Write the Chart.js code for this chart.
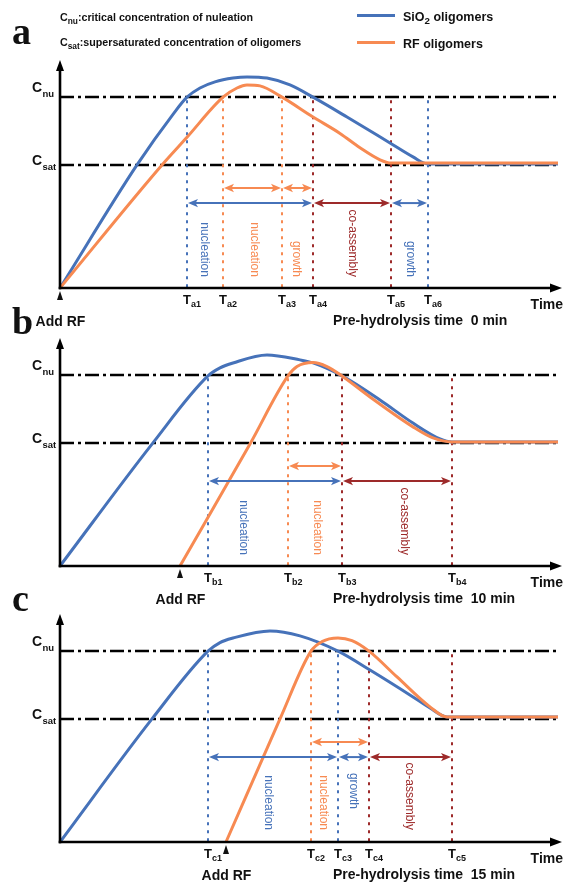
<!DOCTYPE html>
<html>
<head>
<meta charset="utf-8">
<script src="https://cdn.jsdelivr.net/npm/chart.js@4/dist/chart.umd.min.js"></script>
<style>
  html, body { margin: 0; padding: 0; background: #fff; }
  body { width: 564px; height: 883px; position: relative; overflow: hidden;
         font-family: "Liberation Sans", Arial, sans-serif; color: #111; }
  canvas { position: absolute; left: 0; }
  .t { position: absolute; white-space: nowrap; font-weight: bold; line-height: 1; }
  .t sub { font-size: 0.78em; vertical-align: -0.3em; line-height: 0; }
  .letter { position: absolute; font-family: "Liberation Serif", "Times New Roman", serif;
            font-weight: bold; font-size: 38px; line-height: 1; }
  .key { position: absolute; height: 3px; width: 38px; }
</style>
</head>
<body>
<canvas id="panelA" width="564" height="335" style="top:0"></canvas>
<canvas id="panelB" width="564" height="275" style="top:335px"></canvas>
<canvas id="panelC" width="564" height="273" style="top:610px"></canvas>

<div class="t" style="left:60px;top:12px;font-size:10.7px">C<sub>nu</sub>:critical concentration of nuleation</div>
<div class="t" style="left:60px;top:37px;font-size:10.7px">C<sub>sat</sub>:supersaturated concentration of oligomers</div>
<div class="key" style="left:357px;top:14px;background:#4672b9"></div>
<div class="key" style="left:357px;top:41px;background:#f78a52"></div>
<div class="t" style="left:403px;top:11px;font-size:12.5px">SiO<sub>2</sub> oligomers</div>
<div class="t" style="left:403px;top:38px;font-size:12.5px">RF oligomers</div>
<div class="letter" style="left:12px;top:12px">a</div>
<div class="letter" style="left:12px;top:302px">b</div>
<div class="letter" style="left:12px;top:579px">c</div>

<script>
// ---------- concentration levels ----------
const C_NU = 10;
const C_SAT = 6.43;

// ---------- panel a : pre-hydrolysis 0 min ----------
const sio2A_t = [0, 15.4, 22.6, 25.4, 28, 31, 34.6, 37.4, 41.4, 46, 50.6, 57.4, 66, 70.6, 73.6, 99.6];
const sio2A_c = [0, 6.45, 9.1, 10.0, 10.48, 10.8, 11.0, 11.06, 11.0, 10.64, 10.0, 8.96, 7.6, 6.87, 6.5, 6.5];
const rfA_t   = [0, 20.4, 25.4, 32.6, 35.4, 37.4, 40, 44.4, 50.6, 56, 60, 64, 66.2, 99.6];
const rfA_c   = [0, 6.45, 7.9, 10.0, 10.48, 10.64, 10.59, 10.0, 8.96, 8.1, 7.35, 6.72, 6.55, 6.55];
const timesA  = [25.4, 32.6, 44.4, 50.6, 66.2, 73.6];
const tagsA   = ['a1', 'a2', 'a3', 'a4', 'a5', 'a6'];
const kindsA  = ['sio2', 'rf', 'rf', 'co', 'co', 'sio2'];
// stage: [species, from marker, to marker, name]
const stagesA = [['rf', 1, 2, 'nucleation'], ['rf', 2, 3, 'growth'], ['sio2', 0, 3, 'nucleation'],
                 ['co', 3, 4, 'co-assembly'], ['sio2', 4, 5, 'growth']];

// ---------- panel b : pre-hydrolysis 10 min ----------
const sio2B_t = [0, 18.4, 29.6, 32, 34.6, 41.4, 48, 50.6, 56.4, 64, 70.6, 76, 78.4, 99.6];
const sio2B_c = [0, 6.39, 9.96, 10.38, 10.64, 11.06, 10.8, 10.64, 9.96, 8.7, 7.49, 6.66, 6.5, 6.5];
const rfB_t   = [24, 38, 45.6, 47.4, 50.6, 53.4, 56.4, 62, 70.6, 74.6, 78.4, 99.6];
const rfB_c   = [0, 6.39, 9.96, 10.45, 10.66, 10.45, 9.96, 8.86, 7.29, 6.71, 6.5, 6.5];
const timesB  = [29.6, 45.6, 56.4, 78.4];
const tagsB   = ['b1', 'b2', 'b3', 'b4'];
const kindsB  = ['sio2', 'rf', 'co', 'co'];
const stagesB = [['rf', 1, 2, 'nucleation'], ['sio2', 0, 2, 'nucleation'], ['co', 2, 3, 'co-assembly']];

// ---------- panel c : pre-hydrolysis 15 min ----------
const sio2C_t = [0, 18.4, 29.6, 32, 34.6, 42, 48, 55.6, 62, 70.6, 74, 77.4, 99.6];
const sio2C_c = [0, 6.45, 10.0, 10.45, 10.69, 11.06, 10.8, 10.0, 9.01, 7.6, 7.02, 6.55, 6.55];
const rfC_t   = [33.2, 44, 50.2, 52.4, 55.6, 58.4, 61.8, 67.4, 74, 77.4, 99.6];
const rfC_c   = [0, 6.45, 10.0, 10.5, 10.69, 10.55, 10.0, 8.65, 7.08, 6.55, 6.55];
const timesC  = [29.6, 50.2, 55.6, 61.8, 78.4];
const tagsC   = ['c1', 'c2', 'c3', 'c4', 'c5'];
const kindsC  = ['sio2', 'rf', 'sio2', 'co', 'co'];
const stagesC = [['rf', 1, 3, 'nucleation'], ['sio2', 0, 2, 'nucleation'], ['sio2', 2, 3, 'growth'],
                 ['co', 3, 4, 'co-assembly']];

// moment RF is added, and the pre-hydrolysis time of each run
const addRF = [0, 24, 33.2];
const preHydrolysisMin = [0, 10, 15];

// ---------- styling ----------
const COLORS = { sio2: '#4672b9', rf: '#f78a52', co: '#9d2a2a' };
const FONT = '"Liberation Sans", Arial, sans-serif';
const ROW_Y = { rf: 5.24, sio2: 4.45, co: 4.45 };

// where each stage name sits (same order as the stage lists):
// x in time units, y where the text ends (or starts, if start:true)
const labelSpots = [
  [{ x: 38.8, y: 0.58 }, { x: 47.2, y: 0.58 }, { x: 28.8, y: 0.58 }, { x: 58.4, y: 0.58 }, { x: 70.0, y: 0.58 }],
  [{ x: 51.4, y: 0.58 }, { x: 36.6, y: 0.58 }, { x: 68.8, y: 0.58 }],
  [{ x: 52.6, y: 0.63 }, { x: 41.6, y: 0.63 }, { x: 58.6, y: 3.62, start: true }, { x: 69.8, y: 0.63 }]
];

const zip = (t, c) => t.map((v, i) => ({ x: v, y: c[i] }));

function arrowHead(ctx, x, y, dir) {
  ctx.beginPath();
  ctx.moveTo(x, y);
  ctx.lineTo(x - dir * 10, y - 4.2);
  ctx.lineTo(x - dir * 7.5, y);
  ctx.lineTo(x - dir * 10, y + 4.2);
  ctx.closePath();
  ctx.fill();
}

function schemePlugin(idx, times, tags, kinds, stages) {
  return {
    id: 'scheme' + idx,
    beforeDatasetsDraw(chart) {
      const { ctx } = chart;
      const X = chart.scales.x, Y = chart.scales.y;
      const base = Y.getPixelForValue(0);
      ctx.save();
      // C_nu and C_sat levels
      ctx.strokeStyle = '#000';
      ctx.lineWidth = 2.4;
      ctx.setLineDash([14, 4, 3, 4]);
      [C_NU, C_SAT].forEach(v => {
        const y = Math.round(Y.getPixelForValue(v));
        ctx.beginPath();
        ctx.moveTo(X.getPixelForValue(0), y);
        ctx.lineTo(X.getPixelForValue(99.4), y);
        ctx.stroke();
      });
      // dotted markers for each characteristic time
      ctx.lineWidth = 2;
      ctx.setLineDash([3, 5]);
      times.forEach((t, i) => {
        const x = X.getPixelForValue(t);
        ctx.strokeStyle = COLORS[kinds[i]];
        ctx.beginPath();
        ctx.moveTo(x, Y.getPixelForValue(C_NU) + 3);
        ctx.lineTo(x, base);
        ctx.stroke();
      });
      ctx.restore();
    },
    afterDatasetsDraw(chart) {
      const { ctx } = chart;
      const X = chart.scales.x, Y = chart.scales.y;
      const base = Y.getPixelForValue(0);
      const x0 = X.getPixelForValue(0);
      ctx.save();
      ctx.setLineDash([]);

      // axes with arrow tips
      ctx.strokeStyle = '#000';
      ctx.fillStyle = '#000';
      ctx.lineWidth = 2.6;
      const topY = Y.getPixelForValue(12) + 1;
      ctx.beginPath();
      ctx.moveTo(x0, base + 1.3);
      ctx.lineTo(x0, topY + 8);
      ctx.stroke();
      ctx.beginPath();
      ctx.moveTo(x0, topY); ctx.lineTo(x0 - 4, topY + 11); ctx.lineTo(x0 + 4, topY + 11);
      ctx.closePath(); ctx.fill();
      const rightX = X.getPixelForValue(100) + 2;
      ctx.beginPath();
      ctx.moveTo(x0 - 1.3, base);
      ctx.lineTo(rightX - 8, base);
      ctx.stroke();
      ctx.beginPath();
      ctx.moveTo(rightX, base); ctx.lineTo(rightX - 12, base - 4.5); ctx.lineTo(rightX - 12, base + 4.5);
      ctx.closePath(); ctx.fill();

      // stage arrows
      ctx.lineWidth = 2;
      stages.forEach(s => {
        const col = COLORS[s[0]];
        const y = Y.getPixelForValue(ROW_Y[s[0]]);
        const xa = X.getPixelForValue(times[s[1]]);
        const xb = X.getPixelForValue(times[s[2]]);
        ctx.strokeStyle = col; ctx.fillStyle = col;
        ctx.beginPath(); ctx.moveTo(xa + 4, y); ctx.lineTo(xb - 4, y); ctx.stroke();
        arrowHead(ctx, xa + 1, y, -1);
        arrowHead(ctx, xb - 1, y, 1);
      });

      // stage names, written downwards
      ctx.font = '12px ' + FONT;
      ctx.textBaseline = 'middle';
      stages.forEach((s, i) => {
        const spot = labelSpots[idx][i];
        ctx.fillStyle = COLORS[s[0]];
        ctx.save();
        ctx.translate(X.getPixelForValue(spot.x), Y.getPixelForValue(spot.y));
        ctx.rotate(Math.PI / 2);
        ctx.textAlign = spot.start ? 'left' : 'right';
        ctx.fillText(s[3], 0, 0);
        ctx.restore();
      });

      // time markers T with subscripts
      ctx.fillStyle = '#111';
      ctx.textBaseline = 'alphabetic';
      times.forEach((t, i) => {
        const x = X.getPixelForValue(t);
        ctx.font = 'bold 13px ' + FONT;
        ctx.textAlign = 'center';
        ctx.fillText('T', x, base + 15.5);
        ctx.font = 'bold 9px ' + FONT;
        ctx.textAlign = 'left';
        ctx.fillText(tags[i], x + 4, base + 19);
      });

      // concentration level names
      const yNu = Y.getPixelForValue(C_NU), ySat = Y.getPixelForValue(C_SAT);
      ctx.textAlign = 'left';
      ctx.font = 'bold 14px ' + FONT;
      ctx.fillText('C', 32, yNu - 5);
      ctx.fillText('C', 32, ySat);
      ctx.font = 'bold 9.5px ' + FONT;
      ctx.fillText('nu', 42.5, yNu - 0.5);
      ctx.fillText('sat', 42.5, ySat + 5);

      // RF addition mark
      const xr = X.getPixelForValue(addRF[idx]);
      ctx.beginPath();
      ctx.moveTo(xr, base + 3); ctx.lineTo(xr - 3, base + 12); ctx.lineTo(xr + 3, base + 12);
      ctx.closePath(); ctx.fill();
      ctx.font = 'bold 14px ' + FONT;
      ctx.textAlign = 'center';
      ctx.fillText('Add RF', xr + 0.5, base + 38);

      ctx.textAlign = 'right';
      ctx.fillText('Time', 563, base + 20.5);
      ctx.textAlign = 'left';
      ctx.fillText('Pre-hydrolysis time  ' + preHydrolysisMin[idx] + ' min', 333, base + 37);
      ctx.restore();
    }
  };
}

function makePanel(id, idx, sioT, sioC, rfT, rfC, times, tags, kinds, stages, padTop, padBottom) {
  return new Chart(document.getElementById(id), {
    type: 'line',
    data: {
      datasets: [
        { label: 'SiO\u2082 oligomers', data: zip(sioT, sioC), borderColor: COLORS.sio2, borderWidth: 3,
          pointRadius: 0, cubicInterpolationMode: 'monotone', fill: false, clip: false, order: 2 },
        { label: 'RF oligomers', data: zip(rfT, rfC), borderColor: COLORS.rf, borderWidth: 3,
          pointRadius: 0, cubicInterpolationMode: 'monotone', fill: false, clip: false, order: 1 }
      ]
    },
    options: {
      responsive: false,
      animation: false,
      devicePixelRatio: 1,
      events: [],
      layout: { padding: { left: 60, right: 4, top: padTop, bottom: padBottom } },
      scales: {
        x: { type: 'linear', min: 0, max: 100, display: false },
        y: { type: 'linear', min: 0, max: 12, display: false }
      },
      plugins: { legend: { display: false }, tooltip: { enabled: false } }
    },
    plugins: [schemePlugin(idx, times, tags, kinds, stages)]
  });
}

makePanel('panelA', 0, sio2A_t, sio2A_c, rfA_t, rfA_c, timesA, tagsA, kindsA, stagesA, 59, 47);
makePanel('panelB', 1, sio2B_t, sio2B_c, rfB_t, rfB_c, timesB, tagsB, kindsB, stagesB, 2, 44);
makePanel('panelC', 2, sio2C_t, sio2C_c, rfC_t, rfC_c, timesC, tagsC, kindsC, stagesC, 3, 41);
</script>
</body>
</html>
